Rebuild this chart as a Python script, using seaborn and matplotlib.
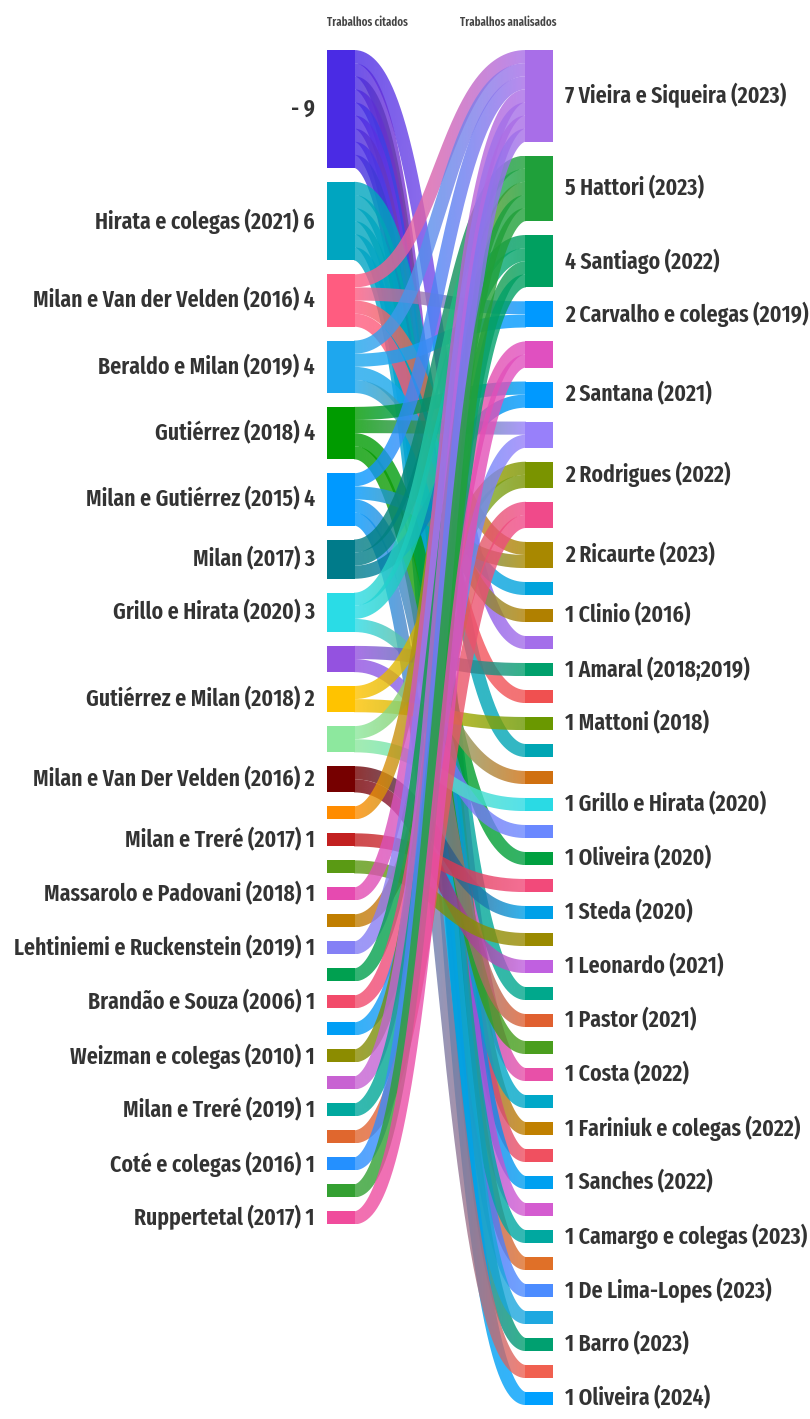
import numpy as np
import pandas as pd
import seaborn as sns
import matplotlib.pyplot as plt
from matplotlib.path import Path
from matplotlib.patches import PathPatch

# Left column: cited works (None = node drawn without a label)
left_names = ["-", "Hirata e colegas (2021)", "Milan e Van der Velden (2016)", "Beraldo e Milan (2019)",
              "Gutiérrez (2018)", "Milan e Gutiérrez (2015)", "Milan (2017)", "Grillo e Hirata (2020)",
              None, "Gutiérrez e Milan (2018)", None, "Milan e Van Der Velden (2016)",
              None, "Milan e Treré (2017)", None, "Massarolo e Padovani (2018)",
              None, "Lehtiniemi e Ruckenstein (2019)", None, "Brandão e Souza (2006)",
              None, "Weizman e colegas (2010)", None, "Milan e Treré (2019)",
              None, "Coté e colegas (2016)", None, "Ruppertetal (2017)"]
left_counts = [9, 6, 4, 4, 4, 4, 3, 3, 2, 2, 2, 2,
               1, 1, 1, 1, 1, 1, 1, 1, 1, 1, 1, 1, 1, 1, 1, 1]
left_colors = ["#4A2BE4", "#00A5C0", "#FF5C80", "#1EA7EE", "#009B00", "#0099FF", "#007B8A", "#2ADCE6",
               "#9452E0", "#FFC300", "#8DE89E", "#760000", "#FF8C00", "#C22020", "#5A9A14", "#E64AB0",
               "#C07E00", "#8480F5", "#00A050", "#F24A6A", "#009EF5", "#8C8C00", "#C862D2", "#00A89E",
               "#E0672E", "#2490FF", "#34A032", "#F04C9C"]

# Right column: analysed works
right_names = ["Vieira e Siqueira (2023)", "Hattori (2023)", "Santiago (2022)", "Carvalho e colegas (2019)",
               None, "Santana (2021)", None, "Rodrigues (2022)", None, "Ricaurte (2023)",
               None, "Clinio (2016)", None, "Amaral (2018;2019)", None, "Mattoni (2018)",
               None, None, "Grillo e Hirata (2020)", None, "Oliveira (2020)", None, "Steda (2020)",
               None, "Leonardo (2021)", None, "Pastor (2021)", None, "Costa (2022)", None,
               "Fariniuk e colegas (2022)", None, "Sanches (2022)", None, "Camargo e colegas (2023)",
               None, "De Lima-Lopes (2023)", None, "Barro (2023)", None, "Oliveira (2024)"]
right_counts = [7, 5, 4, 2, 2, 2, 2, 2, 2, 2,
                1, 1, 1, 1, 1, 1, 1, 1, 1, 1, 1, 1, 1, 1, 1, 1,
                1, 1, 1, 1, 1, 1, 1, 1, 1, 1, 1, 1, 1, 1, 1]
right_colors = ["#A86EE8", "#1FA03A", "#00A060", "#0099FF", "#E050C0", "#0099FF", "#9880FA", "#7A9400",
                "#F04A8A", "#A88800", "#00A3DC", "#B08000", "#A46EEA", "#00A06C", "#F05050", "#6A9800",
                "#00A6B4", "#D07010", "#2ADAE4", "#6A88FF", "#00A040", "#F24A7A", "#00A0E8", "#9A8A00",
                "#C060E0", "#00A88C", "#E06030", "#4A9E1E", "#E850A8", "#00A8C8", "#C08000", "#F05060",
                "#00A0F0", "#D45CD0", "#00A8A0", "#E07028", "#4C8CFF", "#1EA8E0", "#00A070", "#F06050",
                "#00A0FF"]

# Links (one unit each): index into left list -> index into right list
link_source = [0, 0, 0, 0, 0, 0, 0, 0, 0,
               1, 1, 1, 1, 1, 1,
               2, 2, 2, 2,
               3, 3, 3, 3,
               4, 4, 4, 4,
               5, 5, 5, 5,
               6, 6, 6,
               7, 7, 7,
               8, 8, 9, 9, 10, 10, 11, 11,
               12, 13, 14, 15, 16, 17, 18, 19, 20, 21, 22, 23, 24, 25, 26, 27]
link_target = [12, 28, 30, 31, 32, 33, 35, 36, 38,
               16, 25, 29, 34, 37, 40,
               0, 3, 9, 14,
               0, 3, 10, 11,
               5, 6, 20, 27,
               0, 9, 26, 39,
               1, 2, 5,
               1, 2, 17,
               13, 19, 7, 15, 7, 18, 22, 24,
               1, 21, 23, 0, 8, 0, 1, 4, 6, 2, 0, 2, 8, 0, 1, 4]

sns.set_theme(style="white")
plt.rcParams["font.family"] = ["Fira Sans Extra Condensed", "DejaVu Sans"]

W, H = 810, 1419
fig = plt.figure(figsize=(W / 100, H / 100), dpi=100)
ax = fig.add_axes([0, 0, 1, 1])

unit, gap, top = 13.1, 13.9, 50
x_left, x_right, bar_w = 327, 525, 28
link_alpha = 0.8
text_color = "#333333"


def stack(counts):
    counts = np.asarray(counts, dtype=float)
    before = np.concatenate([[0], np.cumsum(counts)[:-1]])
    return top + before * unit + np.arange(len(counts)) * gap


left_top = stack(left_counts)
right_top = stack(right_counts)

links = pd.DataFrame({"src": link_source, "tgt": link_target})
links["s_rank"] = links.groupby("src")["tgt"].rank(method="first") - 1
links["t_rank"] = links.groupby("tgt")["src"].rank(method="first") - 1
links["ys"] = left_top[links["src"]] + (links["s_rank"] + 0.5) * unit
links["yt"] = right_top[links["tgt"]] + (links["t_rank"] + 0.5) * unit


def stroke(ys, yt, x0, x1, w, n=220):
    # outline of a thick cubic-bezier ribbon (constant width)
    t = np.linspace(0, 1, n)[:, None]
    xm = (x0 + x1) / 2
    p0, p1, p2, p3 = (np.array(p, dtype=float) for p in [(x0, ys), (xm, ys), (xm, yt), (x1, yt)])
    pts = (1 - t) ** 3 * p0 + 3 * (1 - t) ** 2 * t * p1 + 3 * (1 - t) * t ** 2 * p2 + t ** 3 * p3
    d = 3 * (1 - t) ** 2 * (p1 - p0) + 6 * (1 - t) * t * (p2 - p1) + 3 * t ** 2 * (p3 - p2)
    nrm = np.column_stack([-d[:, 1], d[:, 0]]) / np.linalg.norm(d, axis=1)[:, None]
    return np.vstack([pts + nrm * w / 2, (pts - nrm * w / 2)[::-1]])


x0, x1 = x_left + bar_w, x_right
for row in links.itertuples():
    poly = stroke(row.ys, row.yt, x0 - 1, x1 + 1, unit)
    cmap = sns.blend_palette([left_colors[int(row.src)], right_colors[int(row.tgt)]], as_cmap=True)
    grad = cmap(np.linspace(0, 1, 128))[None, :, :].copy()
    grad[..., 3] = link_alpha
    y_lo, y_hi = poly[:, 1].min(), poly[:, 1].max()
    im = ax.imshow(grad, extent=(x0 - 1, x1 + 1, y_hi, y_lo), aspect="auto",
                   interpolation="bilinear", zorder=2)
    im.set_clip_path(PathPatch(Path(poly), transform=ax.transData))

# node bars
ax.bar(x_left, np.array(left_counts) * unit, bottom=left_top, width=bar_w, align="edge",
       color=left_colors, linewidth=0, zorder=3)
ax.bar(x_right, np.array(right_counts) * unit, bottom=right_top, width=bar_w, align="edge",
       color=right_colors, linewidth=0, zorder=3)

# labels
for name, cnt, y0 in zip(left_names, left_counts, left_top):
    if name is not None:
        ax.text(x_left - 12, y0 + cnt * unit / 2, f"{name} {cnt}", ha="right", va="center",
                fontsize=17, fontweight="semibold", color=text_color)
for name, cnt, y0 in zip(right_names, right_counts, right_top):
    if name is not None:
        ax.text(x_right + bar_w + 12, y0 + cnt * unit / 2, f"{cnt} {name}", ha="left", va="center",
                fontsize=17, fontweight="semibold", color=text_color)

ax.text(x_left, 22, "Trabalhos citados", ha="left", va="center", fontsize=8.5,
        fontweight="semibold", color="#444444")
ax.text(x_right + bar_w + 3, 22, "Trabalhos analisados", ha="right", va="center", fontsize=8.5,
        fontweight="semibold", color="#444444")

ax.set_xlim(0, W)
ax.set_ylim(H, 0)
ax.axis("off")
fig.savefig("out.png", dpi=100)
